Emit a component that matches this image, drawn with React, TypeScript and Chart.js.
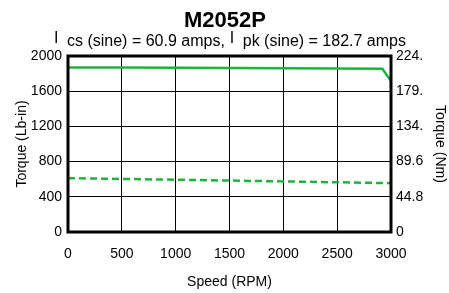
import React, { useEffect, useRef } from "react";
import { Chart, registerables } from "chart.js";

Chart.register(...registerables);

const chartTitle = "M2052P";
const subtitleParts = [
  { main: "I", sub: "cs (sine) = 60.9 amps," },
  { main: "I", sub: "pk (sine) = 182.7 amps" },
];
const speedTicks = [0, 500, 1000, 1500, 2000, 2500, 3000];
const torqueTicks = [0, 400, 800, 1200, 1600, 2000];
const nmTickLabels = ["0", "44.8", "89.6", "134.", "179.", "224."];

const peakSpeed = [0, 500, 1000, 1500, 2000, 2500, 2920, 3000];
const peakTorque = [1870, 1868, 1866, 1863, 1861, 1858, 1856, 1715];
const contSpeed = [0, 1000, 2000, 3000];
const contTorque = [612, 594, 575, 555];

const GREEN = "#1fb33c";
const FONT = "'Liberation Sans', Arial, sans-serif";

const headerPlugin = {
  id: "header",
  afterDraw(chart: any) {
    const ctx = chart.ctx;
    ctx.save();
    ctx.fillStyle = "#000";
    ctx.textBaseline = "alphabetic";
    ctx.textAlign = "left";
    ctx.font = `bold 22px ${FONT}`;
    const tw = ctx.measureText(chartTitle).width;
    ctx.fillText(chartTitle, 225 - tw / 2, 27);

    ctx.font = `16px ${FONT}`;
    const gapIn = 8.5;
    const gapBetween = 5;
    let total = 0;
    subtitleParts.forEach((p, i) => {
      total += ctx.measureText(p.main).width + gapIn + ctx.measureText(p.sub).width;
      if (i < subtitleParts.length - 1) total += gapBetween;
    });
    let x = 230 - total / 2;
    subtitleParts.forEach((p) => {
      ctx.fillText(p.main, x, 43);
      x += ctx.measureText(p.main).width + gapIn;
      ctx.fillText(p.sub, x, 46);
      x += ctx.measureText(p.sub).width + gapBetween;
    });

    const a = chart.chartArea;
    ctx.strokeStyle = "#000";
    ctx.lineWidth = 3;
    ctx.strokeRect(a.left, a.top, a.right - a.left, a.bottom - a.top);
    ctx.restore();
  },
};

export default function App() {
  const ref = useRef<HTMLCanvasElement | null>(null);
  useEffect(() => {
    if (!ref.current) return;
    const tickFont = { family: FONT, size: 14 };
    const chart = new Chart(ref.current, {
      type: "line",
      data: {
        datasets: [
          {
            data: peakSpeed.map((s, i) => ({ x: s, y: peakTorque[i] })),
            borderColor: GREEN,
            borderWidth: 2.5,
            pointRadius: 0,
            fill: false,
            yAxisID: "y",
          },
          {
            data: contSpeed.map((s, i) => ({ x: s, y: contTorque[i] })),
            borderColor: GREEN,
            borderWidth: 2.5,
            borderDash: [7, 4],
            pointRadius: 0,
            fill: false,
            yAxisID: "y",
          },
        ],
      },
      options: {
        responsive: false,
        animation: false,
        layout: { padding: { top: 56, left: 0, right: 0, bottom: 0 } },
        plugins: { legend: { display: false }, tooltip: { enabled: false }, title: { display: false } },
        scales: {
          x: {
            type: "linear",
            min: 0,
            max: 3000,
            afterBuildTicks: (s: any) => {
              s.ticks = speedTicks.map((v) => ({ value: v }));
            },
            afterFit: (s: any) => {
              s.height = 61;
            },
            grid: { color: "#000", lineWidth: 1, drawTicks: false },
            border: { display: false },
            ticks: { color: "#000", font: tickFont, padding: 14, maxRotation: 0, callback: (v: any) => String(v) },
            title: { display: true, text: "Speed (RPM)", color: "#000", font: tickFont, padding: { top: 0, bottom: 2 } },
          },
          y: {
            type: "linear",
            position: "left",
            min: 0,
            max: 2000,
            afterBuildTicks: (s: any) => {
              s.ticks = torqueTicks.map((v) => ({ value: v }));
            },
            afterFit: (s: any) => {
              s.width = 68;
            },
            grid: { color: "#000", lineWidth: 1, drawTicks: false },
            border: { display: false },
            ticks: { color: "#000", font: tickFont, padding: 6, callback: (v: any) => String(v) },
            title: { display: true, text: "Torque (Lb-in)", color: "#000", font: tickFont, padding: { top: 14, bottom: 0 } },
          },
          y2: {
            type: "linear",
            position: "right",
            min: 0,
            max: 2000,
            afterBuildTicks: (s: any) => {
              s.ticks = torqueTicks.map((v) => ({ value: v }));
            },
            afterFit: (s: any) => {
              s.width = 58;
            },
            grid: { display: false, drawTicks: false },
            border: { display: false },
            ticks: {
              color: "#000",
              font: tickFont,
              padding: 5,
              callback: (_v: any, i: number) => nmTickLabels[i],
            },
            title: { display: true, text: "Torque (Nm)", color: "#000", font: tickFont, padding: { top: 1, bottom: 0 } },
          },
        },
      },
      plugins: [headerPlugin],
    } as any);
    return () => chart.destroy();
  }, []);
  return (
    <div style={{ position: "fixed", left: 0, top: 0, width: 449, height: 293, background: "#fff" }}>
      <canvas ref={ref} width={449} height={293} />
    </div>
  );
}
